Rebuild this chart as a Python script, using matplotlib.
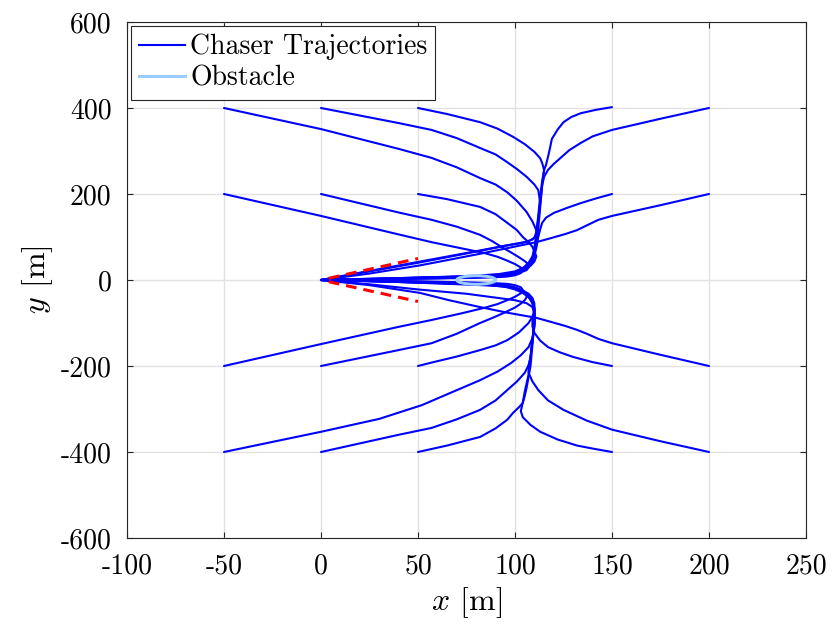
import matplotlib
matplotlib.use("Agg")
import matplotlib.pyplot as plt
from matplotlib.lines import Line2D
from matplotlib.patches import Ellipse

plt.rcParams['font.family'] = ['cmr10', 'DejaVu Serif']
plt.rcParams['mathtext.fontset'] = 'cm'
plt.rcParams['axes.unicode_minus'] = False
plt.rcParams['axes.formatter.use_mathtext'] = True

# ---------------- data ----------------
x_ticks = [-100, -50, 0, 50, 100, 150, 200, 250]
x_tick_labels = ['-100', '-50', '0', '50', '100', '150', '200', '250']
y_ticks = [-600, -400, -200, 0, 200, 400, 600]
y_tick_labels = ['-600', '-400', '-200', '0', '200', '400', '600']

# chaser trajectories (x list, y list)
traj_m50_p400_x = [-50, 0, 40, 57, 70, 82, 90, 96, 101, 106, 109, 111, 111, 109, 105, 99, 80, 50, 20, 0]
traj_m50_p400_y = [400, 351, 305, 284, 262, 237, 222, 204, 184, 158, 136, 116, 104, 94, 88, 83, 66, 40, 16, 0]
traj_0_p400_x = [0, 40, 57, 70, 82, 90, 96, 101, 106, 110, 112, 113, 112, 111, 110, 109, 107, 104, 100, 95, 85, 60, 30, 0]
traj_0_p400_y = [400, 365, 349, 330, 307, 292, 274, 258, 240, 222, 209, 180, 140, 105, 75, 55, 40, 27, 17, 11, 7, 4, 2, 0]
traj_50_p400_x = [50, 65, 82, 91, 99, 105, 110, 113, 114, 115, 114, 113, 112, 111, 110, 108, 105, 100, 92, 80, 60, 30, 0]
traj_50_p400_y = [400, 386, 367, 352, 333, 316, 298, 283, 272, 256, 220, 170, 120, 85, 60, 42, 30, 20, 14, 10, 7, 3, 0]
traj_150_p400_x = [150, 142, 134, 129, 125, 122, 119, 118, 117, 116, 115, 114, 113, 112, 111, 110, 107, 102, 95, 80, 50, 20, 0]
traj_150_p400_y = [402, 396, 388, 379, 367, 350, 328, 306, 286, 268, 256, 230, 195, 150, 112, 98, 90, 85, 80, 67, 42, 17, 0]
traj_200_p400_x = [200, 175, 150, 140, 134, 128, 124, 120, 117, 115, 114, 113, 112, 111, 110, 109, 107, 104, 99, 93, 80, 50, 25, 0]
traj_200_p400_y = [400, 375, 349, 334, 319, 302, 286, 270, 256, 240, 220, 180, 140, 100, 70, 50, 35, 23, 15, 11, 8, 5, 2, 0]
traj_m50_p200_x = [-50, 0, 40, 57, 72, 84, 91, 96, 100, 103, 104, 103, 100, 96, 88, 80, 50, 20, 0]
traj_m50_p200_y = [200, 149, 106, 88, 74, 63, 54, 45, 37, 29, 22, 16, 11, 8, 6, 5, 3, 1, 0]
traj_0_p200_x = [0, 40, 57, 70, 82, 88, 93, 98, 102, 105, 107, 107, 106, 103, 99, 94, 80, 50, 20, 0]
traj_0_p200_y = [200, 157, 140, 124, 105, 91, 77, 64, 53, 44, 36, 29, 23, 18, 14, 12, 9, 5, 2, 0]
traj_50_p200_x = [50, 65, 82, 90, 96, 101, 104, 107, 109, 110, 111, 110, 108, 105, 101, 96, 85, 55, 25, 0]
traj_50_p200_y = [200, 188, 170, 153, 133, 116, 100, 88, 77, 66, 55, 43, 33, 24, 17, 13, 9, 6, 3, 0]
traj_150_p200_x = [150, 142, 134, 127, 120, 116, 114, 113, 112, 111, 110, 109, 107, 104, 100, 95, 70, 40, 0]
traj_150_p200_y = [200, 190, 179, 168, 156, 145, 133, 118, 100, 75, 55, 42, 31, 22, 15, 10, 6, 3, 0]
traj_200_p200_x = [200, 175, 150, 143, 137, 132, 126, 119, 111, 96, 82, 66, 51, 25, 0]
traj_200_p200_y = [200, 174, 149, 140, 127, 116, 107, 98, 88, 74, 61, 47, 34, 15, 0]
traj_m50_m400_x = [-50, 0, 30, 52, 68, 82, 91, 98, 103, 107, 109, 110, 110, 109, 107, 104, 100, 95, 80, 50, 20, 0]
traj_m50_m400_y = [-400, -353, -323, -291, -260, -233, -213, -193, -175, -156, -135, -110, -80, -55, -38, -26, -17, -12, -7, -4, -1, 0]
traj_0_m400_x = [0, 40, 57, 70, 82, 90, 96, 101, 105, 107, 108, 109, 110, 110, 109, 107, 104, 99, 93, 85, 55, 25, 0]
traj_0_m400_y = [-400, -360, -344, -324, -302, -280, -256, -236, -216, -198, -180, -140, -100, -70, -50, -36, -26, -18, -13, -10, -5, -2, 0]
traj_50_m400_x = [50, 65, 82, 90, 96, 99, 102, 104, 105, 106, 108, 109, 110, 110, 109, 106, 101, 94, 85, 60, 30, 0]
traj_50_m400_y = [-400, -385, -365, -345, -325, -309, -296, -286, -270, -250, -200, -150, -100, -65, -45, -30, -20, -14, -10, -6, -3, 0]
traj_150_m400_x = [150, 140, 132, 122, 113, 108, 104, 103, 104, 105, 107, 108, 109, 110, 110, 109, 106, 100, 90, 75, 50, 25, 0]
traj_150_m400_y = [-400, -392, -385, -371, -353, -337, -319, -305, -285, -260, -220, -180, -140, -100, -78, -63, -54, -47, -41, -32, -22, -10, 0]
traj_200_m400_x = [200, 175, 150, 137, 125, 117, 112, 109, 107, 107, 108, 109, 110, 110, 109, 107, 104, 99, 93, 85, 55, 25, 0]
traj_200_m400_y = [-400, -375, -348, -327, -302, -280, -256, -236, -216, -200, -180, -140, -100, -70, -50, -36, -26, -18, -13, -10, -6, -3, 0]
traj_m50_m200_x = [-50, 0, 40, 57, 72, 84, 91, 96, 100, 103, 104, 103, 100, 96, 88, 80, 50, 20, 0]
traj_m50_m200_y = [-200, -149, -109, -93, -78, -65, -56, -47, -39, -31, -23, -17, -12, -9, -7, -6, -3, -1, 0]
traj_0_m200_x = [0, 40, 57, 70, 82, 89, 95, 100, 103, 105, 106, 106, 105, 102, 98, 94, 80, 50, 20, 0]
traj_0_m200_y = [-200, -163, -147, -125, -100, -87, -75, -64, -55, -47, -40, -33, -27, -21, -17, -14, -10, -6, -2, 0]
traj_50_m200_x = [50, 57, 70, 82, 90, 96, 102, 107, 109, 110, 110, 109, 107, 104, 100, 94, 88, 60, 30, 0]
traj_50_m200_y = [-200, -192, -178, -163, -152, -140, -122, -100, -85, -70, -55, -42, -32, -25, -19, -15, -13, -8, -3, 0]
traj_150_m200_x = [150, 140, 130, 123, 117, 113, 110, 109, 109, 110, 110, 109, 107, 104, 100, 95, 85, 55, 25, 0]
traj_150_m200_y = [-200, -191, -179, -168, -156, -141, -123, -108, -93, -78, -65, -52, -40, -30, -22, -16, -11, -6, -2, 0]
traj_200_m200_x = [200, 175, 150, 143, 137, 132, 126, 119, 111, 96, 82, 66, 51, 25, 0]
traj_200_m200_y = [-200, -174, -147, -137, -125, -116, -107, -98, -88, -76, -63, -47, -30, -12, 0]

trajectories = [
    (traj_m50_p400_x, traj_m50_p400_y), (traj_0_p400_x, traj_0_p400_y),
    (traj_50_p400_x, traj_50_p400_y), (traj_150_p400_x, traj_150_p400_y),
    (traj_200_p400_x, traj_200_p400_y), (traj_m50_p200_x, traj_m50_p200_y),
    (traj_0_p200_x, traj_0_p200_y), (traj_50_p200_x, traj_50_p200_y),
    (traj_150_p200_x, traj_150_p200_y), (traj_200_p200_x, traj_200_p200_y),
    (traj_m50_m400_x, traj_m50_m400_y), (traj_0_m400_x, traj_0_m400_y),
    (traj_50_m400_x, traj_50_m400_y), (traj_150_m400_x, traj_150_m400_y),
    (traj_200_m400_x, traj_200_m400_y), (traj_m50_m200_x, traj_m50_m200_y),
    (traj_0_m200_x, traj_0_m200_y), (traj_50_m200_x, traj_50_m200_y),
    (traj_150_m200_x, traj_150_m200_y), (traj_200_m200_x, traj_200_m200_y),
]

# obstacle (center, radius) and approach cone edges
obstacle_center = (80, 0)
obstacle_radius = 10
cone_upper_x = [4, 50]
cone_upper_y = [4, 50]
cone_lower_x = [4, 50]
cone_lower_y = [-4, -50]

# ---------------- plot ----------------
fig = plt.figure(figsize=(8.34, 6.32), dpi=100)
ax = fig.add_axes([127 / 834, (632 - 538) / 632, 679 / 834, 516 / 632])

for tx, ty in trajectories:
    ax.plot(tx, ty, color='#0000ff', lw=1.5, solid_joinstyle='round',
            solid_capstyle='round', zorder=3)

ax.add_patch(Ellipse(obstacle_center, 2 * obstacle_radius, 2 * obstacle_radius,
                     fill=False, edgecolor='#99ccff', lw=2.2, zorder=4))

ax.plot(cone_upper_x, cone_upper_y, color='#ff0000', lw=2.2, dashes=(3.5, 2.3), zorder=5)
ax.plot(cone_lower_x, cone_lower_y, color='#ff0000', lw=2.2, dashes=(3.5, 2.3), zorder=5)

ax.set_xlim(-100, 250)
ax.set_ylim(-600, 600)
ax.set_xticks(x_ticks)
ax.set_xticklabels(x_tick_labels)
ax.set_yticks(y_ticks)
ax.set_yticklabels(y_tick_labels)
ax.tick_params(direction='in', length=4, width=0.8, top=True, right=True,
               labelsize=20, colors='#262626', labelcolor='black')
ax.tick_params(axis='x', pad=11)
ax.tick_params(axis='y', pad=11)
ax.grid(True, color='#e2e2e2', lw=1.0)
ax.set_axisbelow(True)
for s in ax.spines.values():
    s.set_color('#262626')
    s.set_linewidth(0.8)

ax.set_xlabel(r'$x$ [m]', fontsize=23, labelpad=4)
ax.set_ylabel(r'$y$ [m]', fontsize=23, labelpad=4)

handles = [Line2D([], [], color='#0000ff', lw=1.5),
           Line2D([], [], color='#99ccff', lw=2.2)]
leg = ax.legend(handles, ['Chaser Trajectories', 'Obstacle'], loc='upper left',
                fontsize=20, frameon=True, fancybox=False, framealpha=1,
                edgecolor='#262626', handlelength=1.65, handletextpad=0.2,
                labelspacing=0.18, borderpad=0.28, borderaxespad=0.15)
leg.get_frame().set_linewidth(0.8)

fig.savefig('out.png', dpi=100)
